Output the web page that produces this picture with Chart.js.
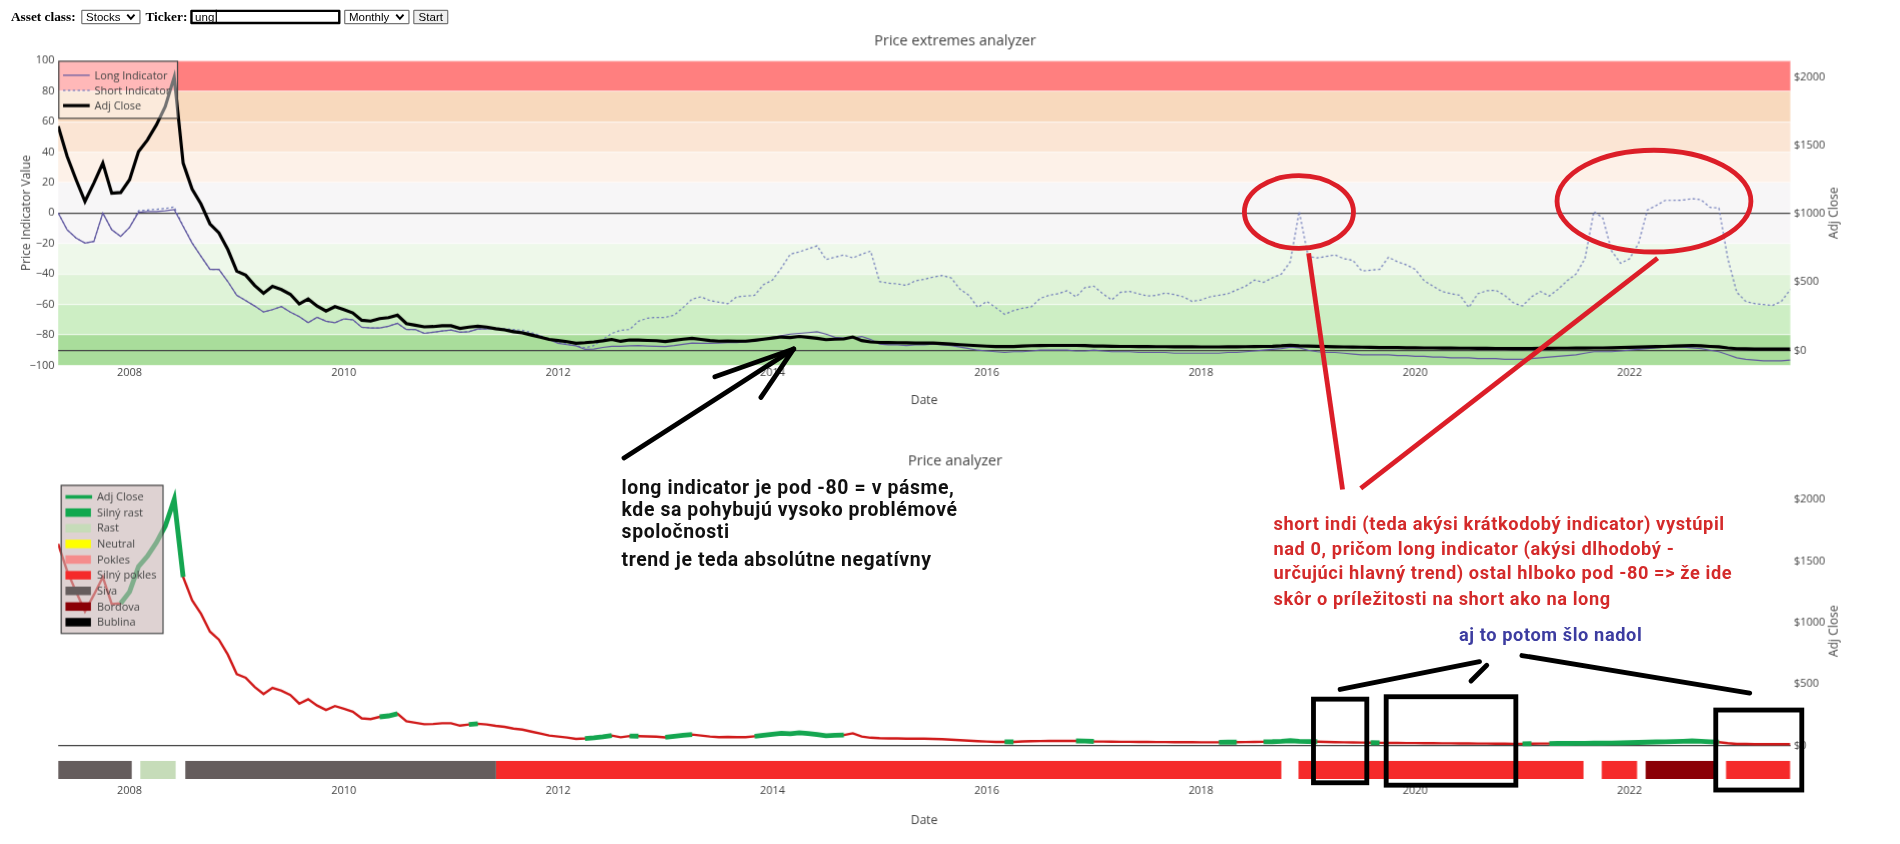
<!DOCTYPE html>
<html><head><meta charset="utf-8">
<script src="https://cdn.jsdelivr.net/npm/chart.js@4.4.1/dist/chart.umd.min.js"></script>
<style>
html,body{margin:0;padding:0;background:#fff;}
body{width:1900px;height:844px;position:relative;overflow:hidden;}
#root{position:absolute;left:0;top:0;width:1568px;height:697px;transform:scale(1.2117);transform-origin:0 0;}
.lbl{position:absolute;top:6px;font:bold 11px "Liberation Serif","Times New Roman",serif;color:#000;line-height:14px;}
.box{position:absolute;top:8px;height:12px;box-sizing:border-box;border:1px solid #767676;border-radius:1px;background:#fff;font:9.5px "Liberation Sans",Arial,sans-serif;color:#000;line-height:10px;padding-left:3px;}
.chev{position:absolute;right:3px;top:2px;}
canvas{position:absolute;left:0;}
#c1{top:25px;} #c2{top:370px;}
#ann{position:absolute;left:0;top:0;pointer-events:none;}
.note{position:absolute;font-family:Roboto,"Noto Sans",sans-serif;font-weight:700;letter-spacing:0.5px;white-space:nowrap;}
</style></head><body>
<div id="root">
<div class="lbl" style="left:9px">Asset class:</div>
<div class="box" style="left:67px;width:49px">Stocks<svg class="chev" width="8" height="6" viewBox="0 0 8 6"><path d="M1 1 L4 4.5 L7 1" fill="none" stroke="#000" stroke-width="1.6"/></svg></div>
<div class="lbl" style="left:120px">Ticker:</div>
<div class="box" style="left:157px;width:124px;border:2px solid #000;line-height:8px;padding-left:2px">ung<span style="border-left:1px solid #000;margin-left:1px"></span></div>
<div class="box" style="left:284px;width:54px">Monthly<svg class="chev" width="8" height="6" viewBox="0 0 8 6"><path d="M1 1 L4 4.5 L7 1" fill="none" stroke="#000" stroke-width="1.6"/></svg></div>
<div class="box" style="left:341px;width:29px;background:#efefef;text-align:center;padding:0">Start</div>

<canvas id="c1" width="1576" height="320"></canvas>
<canvas id="c2" width="1576" height="320"></canvas>

<svg id="ann" width="1568" height="697">
 <g stroke="#000" stroke-width="4" stroke-linecap="round" fill="none">
  <line x1="515" y1="378" x2="655" y2="288"/>
  <line x1="590" y1="311" x2="655" y2="288"/>
  <line x1="628" y1="328" x2="655" y2="288"/>
  <rect x="1084" y="577" width="44" height="69"/>
  <rect x="1144" y="575" width="107" height="73"/>
  <rect x="1416" y="586" width="71" height="66"/>
  <line x1="1106" y1="569" x2="1221" y2="546"/>
  <line x1="1214" y1="562" x2="1227" y2="549"/>
  <line x1="1256" y1="541" x2="1444" y2="572"/>
 </g>
 <g stroke="#dc1e28" stroke-width="4" fill="none">
  <ellipse cx="1072" cy="175" rx="45" ry="30"/>
  <ellipse cx="1365" cy="166" rx="80" ry="42"/>
  <line x1="1080" y1="209" x2="1108" y2="404"/>
  <line x1="1368" y1="213" x2="1123" y2="403"/>
 </g>
</svg>
<div class="note" style="left:513px;top:394px;font-size:16px;line-height:18px;color:#111">long indicator je pod -80 = v pásme,<br>kde sa pohybujú vysoko problémové<br>spoločnosti</div>
<div class="note" style="left:513px;top:453px;font-size:16px;line-height:18px;color:#111">trend je teda absolútne negatívny</div>
<div class="note" style="left:1051px;top:422px;font-size:15px;line-height:20.5px;color:#d42a2a">short indi (teda akýsi krátkodobý indicator) vystúpil<br>nad 0, pričom long indicator (akýsi dlhodobý -<br>určujúci hlavný trend) ostal hlboko pod -80 =&gt; že ide<br>skôr o príležitosti na short ako na long</div>
<div class="note" style="left:1204px;top:515px;font-size:15px;line-height:18px;color:#3c3ca0">aj to potom šlo nadol</div>
</div>

<script>
// ---------- DATA ----------
const START_YEAR = 2007, START_MONTH = 5; // first monthly observation: May 2007
const adjClose = [
 1640,1420,1250,1090,1225,1370,1150,1155,1250,1455,
 1540,1650,1785,2000,1370,1180,1070,925,860,738,
 580,550,475,418,468,445,410,340,376,324,
 288,320,298,274,220,214,232,240,258,196,
 184,172,174,180,180,160,170,176,170,158,
 150,136,128,112,96,80,72,64,52,56,
 62,70,80,66,76,75,73,71,65,74,
 82,88,80,72,67,69,67,67,74,82,
 90,98,94,102,96,88,78,82,84,98,
 72,62,58,57,56,55,54,54,53,50,
 46,42,38,34,31,28,29,28,32,34,
 35,36,36,36,36,35,32,31,30,29,
 29,28,28,27,27,26,26,26,25,25,
 25,26,26,27,28,29,30,33,38,33,
 31,30,28,26,25,24,23,22,21,20,
 20,19,19,18,18,17,17,16,16,15,
 15,14,14,13,13,14,15,15,16,16,
 17,17,18,18,19,20,22,24,26,28,
 29,31,33,36,33,29,26,18,12,11,
 10,10,10,10,10];
const longIndicator = [
 0,-11,-16.4,-19.7,-18.6,0,-11,-15.4,-9.4,0.5,
 1,1,1.5,2.2,-8.8,-19.7,-28.5,-37,-37,-45,
 -54,-57.5,-61,-65,-63.4,-61.4,-65,-68,-72,-68.4,
 -71,-72,-69.5,-70,-75,-75.4,-75.4,-74.3,-72.4,-76.5,
 -76.5,-79,-78.3,-77.5,-76.8,-78.3,-77.9,-76.1,-76.1,-75.7,
 -76.5,-77.2,-78,-79.2,-81,-83,-85.5,-86.4,-87.2,-89.5,
 -89.3,-88.2,-87.5,-87.5,-87.1,-87,-87.3,-87.5,-87.6,-87,
 -86.2,-85.3,-85.5,-85.5,-85.3,-85,-85,-84.5,-84,-83,
 -81.5,-80.5,-79.5,-79,-78.5,-78,-79.5,-81.5,-82,-82,
 -81,-83,-86,-86.5,-86.5,-87,-86.5,-86.5,-86,-86.5,
 -87,-88,-89,-90,-90.5,-91,-91.5,-91,-91,-90.5,
 -90,-90,-90,-90,-90.5,-90.5,-90,-90.5,-91,-91,
 -91,-91.5,-91.5,-91.5,-91.5,-92,-92,-92,-92,-92,
 -92,-91.5,-91.5,-91,-90.5,-90,-89.5,-89,-88,-88.5,
 -90,-91,-91.5,-91.5,-92,-92.5,-93,-93,-93,-93,
 -93.5,-93.5,-94,-94,-94.5,-94.5,-95,-95,-95,-95.5,
 -95.5,-95.5,-96,-96,-96,-95.5,-95,-94.5,-94,-93.5,
 -93,-92,-91,-91,-91,-90.5,-90,-89.5,-89,-88.5,
 -88,-88,-88,-88.5,-89,-90,-91,-93,-95,-96,
 -96.5,-97,-97,-97,-96.5];
const shortIndicator = [
 0,-11,-16.4,-19.7,-18.6,0,-11,-15.4,-9.4,1.5,
 2,2.5,3,4,-8.5,-19.5,-28.5,-37,-37,-45,
 -54,-57.5,-61,-65,-63.4,-61.4,-65,-68,-72,-68.4,
 -71,-72,-69.5,-70,-75,-75.4,-75.4,-74.3,-72.4,-76.5,
 -76.5,-79,-78.3,-77.5,-76.8,-78.3,-77.9,-76.1,-76,-75.5,
 -76,-76.5,-77,-78.5,-80.5,-82.5,-85,-86,-87,-88.5,
 -87,-83,-79,-77,-76.5,-71,-69,-68.5,-68.5,-67,
 -62,-56.5,-55,-57.5,-58.5,-59.5,-55,-54.5,-54,-47,
 -44,-36,-27,-25.5,-23.5,-21.5,-30.5,-29,-27.5,-29.5,
 -27,-25,-45,-46,-46.5,-47.5,-44.5,-43.5,-42,-41,
 -42.5,-50,-54,-62,-58,-62,-66.5,-64,-62.5,-61.5,
 -56,-54,-53,-51,-55,-49,-48,-53,-57,-52,
 -51.5,-53,-54.5,-54,-52.5,-53.5,-55,-58,-57,-55,
 -54,-53,-50.5,-48,-44,-45.5,-42.5,-40,-32,1,
 -28.5,-29.5,-28.5,-27.5,-30,-31,-38,-37.5,-37,-29,
 -32,-34,-37,-44.5,-48,-51.5,-53,-54,-62,-53,
 -51,-50.7,-54,-59,-61,-55,-51.5,-54.5,-50,-44.5,
 -40,-30,1,-3.3,-25,-33,-30,-20,2,5,
 8.3,8.3,8.5,9.4,8.7,3.7,3.3,-30,-52,-58,
 -59.4,-60,-60.7,-58,-50.2];
const yearTicks = [2008,2010,2012,2014,2016,2018,2020,2022];
const indicatorTicks = [-100,-80,-60,-40,-20,0,20,40,60,80,100];
const priceTicks = [0,500,1000,1500,2000];
// months in which the bottom Adj Close line is drawn as "Silný rast" (green)
const strongRiseSpans = [
 ['2007-12','2008-07'],['2010-05','2010-07'],['2011-03','2011-04'],['2012-04','2012-07'],
 ['2012-09','2012-10'],['2013-01','2013-04'],['2013-11','2014-06'],['2014-07','2014-09'],
 ['2016-03','2016-04'],['2016-11','2017-01'],['2018-03','2018-05'],['2018-08','2019-02'],
 ['2019-08','2019-09'],['2021-01','2021-02'],['2021-04','2022-11']];
// phase bar row (decimal years)
const phaseName  = ['Siva','Rast','Siva','Silný pokles','Silný pokles','Silný pokles','Bordova','Silný pokles'];
const phaseStart = [2007.333,2008.10,2008.52,2011.42,2018.91,2021.74,2022.15,2022.90];
const phaseEnd   = [2008.02,2008.43,2011.42,2018.75,2021.57,2022.07,2022.80,2023.5];
const legendCategories = ['Adj Close','Silný rast','Rast','Neutral','Pokles','Silný pokles','Siva','Bordova','Bublina'];

// ---------- STYLE ----------
const SCALE = 1.2117;
const zoneColors = ['#a9dd9b','#cdeec4','#dff3d8','#eef8ea','#f7f6f7','#f7f6f7','#fdf1e8','#fbe5d4','#f8d9bd','#ff7f7f'];
const catColor = {'Adj Close':'rgb(20,166,80)','Silný rast':'#10a84e','Rast':'#c6dcb9','Neutral':'#ffff00','Pokles':'#f58c8c',
  'Silný pokles':'#f52a2a','Siva':'#655d5d','Bordova':'#8b0006','Bublina':'#000000'};
const RED_LINE = 'rgb(208,26,26)';
const PHASE_LEVEL = -200;
const LONG_C = 'rgb(98,88,160)', SHORT_C = 'rgb(112,124,186)';

Chart.defaults.font.family = '"Open Sans", sans-serif';
Chart.defaults.color = '#444';

const xs = adjClose.map((_, i) => START_YEAR + (START_MONTH - 1 + i) / 12);
const monthKey = i => { const t = START_YEAR*12 + START_MONTH - 1 + i; const y = Math.floor(t/12), m = t%12 + 1; return y + '-' + (m < 10 ? '0' : '') + m; };
const pts = arr => arr.map((v, i) => ({x: xs[i], y: v}));
const inRise = i => { const k = monthKey(i); return strongRiseSpans.some(s => k >= s[0] && k <= s[1]); };
const minus = v => (v < 0 ? '\u2212' + Math.abs(v) : String(v));

const deco = {
  id: 'deco',
  beforeDraw(chart, args, o) {
    if (!o.zones) return;
    const {ctx, chartArea: a} = chart; const s = chart.scales.yI;
    ctx.save();
    for (let k = 0; k < zoneColors.length; k++) {
      const yTop = s.getPixelForValue(indicatorTicks[k+1]), yBot = s.getPixelForValue(indicatorTicks[k]);
      ctx.fillStyle = zoneColors[k];
      ctx.fillRect(a.left, yTop, a.right - a.left, yBot - yTop);
    }
    ctx.restore();
  },
  afterDatasetsDraw(chart, args, o) {
    const {ctx, chartArea: a} = chart; const L = o.legend;
    ctx.save();
    ctx.fillStyle = L.bg; ctx.strokeStyle = '#444'; ctx.lineWidth = 1;
    ctx.fillRect(L.x, a.top + L.dy, L.w, L.h);
    ctx.strokeRect(L.x + 0.5, a.top + L.dy + 0.5, L.w, L.h);
    ctx.font = '9px "Open Sans"'; ctx.textBaseline = 'middle'; ctx.textAlign = 'left';
    L.items.forEach((it, k) => {
      const y = a.top + L.dy + L.y0 + k * L.step;
      if (it.rect) { ctx.fillStyle = it.color; ctx.fillRect(L.x + 4, y - 3.5, 21, 7); }
      else { ctx.strokeStyle = it.color; ctx.lineWidth = it.width; ctx.setLineDash(it.dash || []);
        ctx.beginPath(); ctx.moveTo(L.x + 4, y); ctx.lineTo(L.x + 26, y); ctx.stroke(); ctx.setLineDash([]); }
      ctx.fillStyle = '#444'; ctx.fillText(it.label, L.x + 30, y + 0.5);
    });
    ctx.restore();
  },
  afterDraw(chart, args, o) {
    const {ctx, chartArea: a} = chart;
    ctx.save(); ctx.fillStyle = '#444'; ctx.textAlign = 'center'; ctx.textBaseline = 'middle';
    ctx.font = '12px "Open Sans"'; ctx.fillText(o.title, chart.width / 2, o.titleY);
    ctx.font = '10px "Open Sans"'; ctx.fillText('Date', (a.left + a.right) / 2, a.bottom + o.dateDy);
    const cy = (a.top + a.bottom) / 2;
    if (o.leftTitle) { ctx.save(); ctx.translate(22, cy); ctx.rotate(-Math.PI/2); ctx.fillText(o.leftTitle, 0, 0); ctx.restore(); }
    ctx.save(); ctx.translate(a.right + 36, cy); ctx.rotate(-Math.PI/2); ctx.fillText('Adj Close', 0, 0); ctx.restore();
    ctx.restore();
  }
};

const xScale = (pad, h) => ({
  type: 'linear', min: xs[0], max: xs[xs.length - 1],
  afterBuildTicks: a => { a.ticks = yearTicks.map(v => ({value: v})); },
  ticks: {callback: v => String(v), autoSkip: false, maxRotation: 0, font: {size: 9}, color: '#444', padding: pad},
  grid: {display: false, drawTicks: false}, border: {display: false},
  afterFit: a => { a.height = h; }
});
const priceScale = (min, max) => ({
  position: 'right', min, max,
  afterBuildTicks: a => { a.ticks = priceTicks.map(v => ({value: v})); },
  ticks: {callback: v => '$' + v, font: {size: 9}, color: '#444', padding: 3},
  grid: {drawTicks: false, color: c => (c.tick && c.tick.value === 0) ? '#444' : 'rgba(0,0,0,0)'},
  border: {display: false},
  afterFit: a => { a.width = 99; }
});

new Chart(document.getElementById('c1'), {
  type: 'line',
  data: {datasets: [
    {label: 'Adj Close', data: pts(adjClose), yAxisID: 'yP', borderColor: '#000', borderWidth: 2.6, pointRadius: 0, order: 0},
    {label: 'Long Indicator', data: pts(longIndicator), yAxisID: 'yI', borderColor: LONG_C, borderWidth: 1, pointRadius: 0, order: 1},
    {label: 'Short Indicator', data: pts(shortIndicator), yAxisID: 'yI', borderColor: SHORT_C, borderWidth: 1, borderDash: [2, 2], pointRadius: 0, order: 2}
  ]},
  options: {
    responsive: false, animation: false, events: [], devicePixelRatio: SCALE,
    layout: {padding: {top: 25, left: 0, right: 0, bottom: 0}},
    plugins: {legend: {display: false}, tooltip: {enabled: false},
      deco: {zones: true, title: 'Price extremes analyzer', titleY: 9, dateDy: 29, leftTitle: 'Price Indicator Value',
        legend: {x: 48, dy: 0, w: 98, h: 47, y0: 12, step: 12.5, bg: 'rgba(255,255,255,0.45)', items: [
          {label: 'Long Indicator', color: LONG_C, width: 1},
          {label: 'Short Indicator', color: SHORT_C, width: 1, dash: [2, 2]},
          {label: 'Adj Close', color: '#000', width: 2.6}]}}},
    scales: {
      x: xScale(1, 44),
      yI: {position: 'left', min: -100, max: 100,
        afterBuildTicks: a => { a.ticks = indicatorTicks.map(v => ({value: v})); },
        ticks: {callback: v => minus(v), font: {size: 9}, color: '#444', padding: 3},
        grid: {drawTicks: false, color: c => (c.tick && c.tick.value === 0) ? '#444' : 'rgba(255,255,255,0.55)'},
        border: {display: false}, afterFit: a => { a.width = 48; }},
      yP: priceScale(-110, 2120)
    }
  },
  plugins: [deco]
});

const phaseSets = phaseName.map((n, k) => ({
  label: n, data: [{x: phaseStart[k], y: PHASE_LEVEL}, {x: phaseEnd[k], y: PHASE_LEVEL}],
  yAxisID: 'yP', borderColor: catColor[n], borderWidth: 15, borderCapStyle: 'butt', pointRadius: 0, order: 5
}));
new Chart(document.getElementById('c2'), {
  type: 'line',
  data: {datasets: [
    {label: 'Adj Close', data: adjClose.map((v, i) => ({x: xs[i], y: inRise(i) ? v : null})), yAxisID: 'yP',
      borderColor: catColor['Adj Close'], borderWidth: 4, pointRadius: 0, spanGaps: false, order: 1},
    {label: 'Adj Close pokles', data: pts(adjClose), yAxisID: 'yP', borderColor: RED_LINE, borderWidth: 2, pointRadius: 0, order: 2},
    ...phaseSets
  ]},
  options: {
    responsive: false, animation: false, events: [], devicePixelRatio: SCALE,
    layout: {padding: {top: 27, left: 48, right: 0, bottom: 0}},
    plugins: {legend: {display: false}, tooltip: {enabled: false},
      deco: {zones: false, title: 'Price analyzer', titleY: 11, dateDy: 33,
        legend: {x: 50, dy: 3, w: 84, h: 122, y0: 10, step: 12.9, bg: 'rgba(200,180,180,0.6)',
          items: legendCategories.map((n, k) => k === 0 ? {label: n, color: catColor[n], width: 3} : {label: n, color: catColor[n], rect: true})}}},
    scales: {
      x: xScale(3, 46),
      yP: priceScale(-290, 2150)
    }
  },
  plugins: [deco]
});
</script>
</body></html>
